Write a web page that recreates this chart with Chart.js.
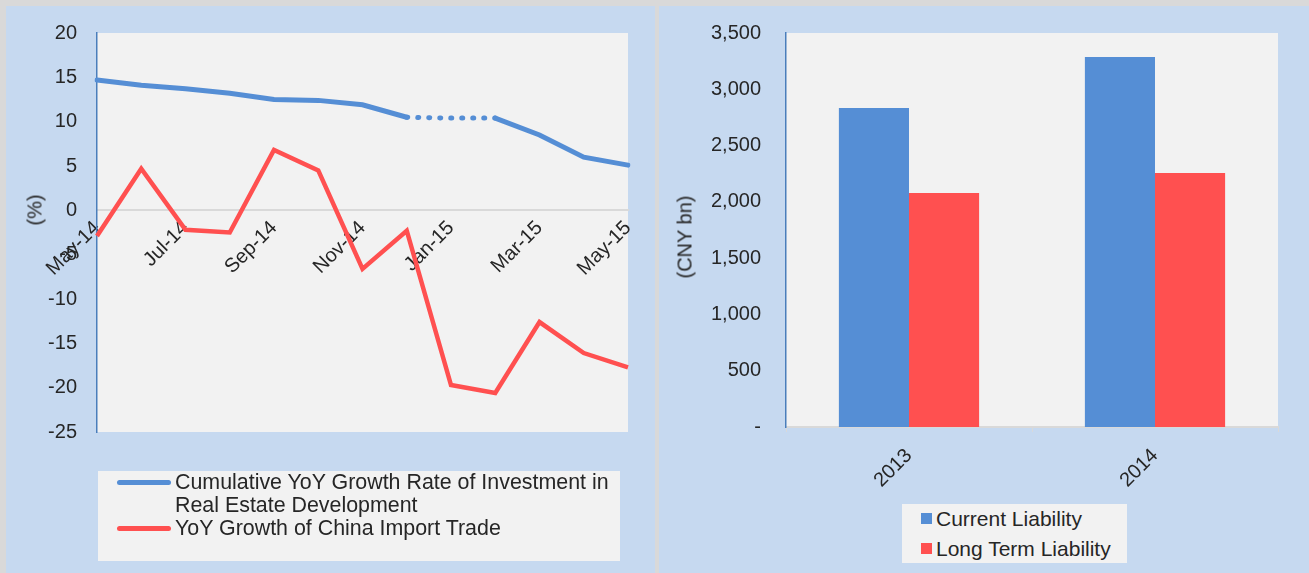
<!DOCTYPE html>
<html>
<head>
<meta charset="utf-8">
<script src="https://cdn.jsdelivr.net/npm/chart.js@4.4.0/dist/chart.umd.min.js"></script>
<style>
    body { margin: 0; background: #d9d9d9; font-family: "Liberation Sans", Arial, sans-serif; color: #262626; }
    .panel { position: absolute; top: 6px; height: 567px; background: #c6d9f0; overflow: hidden; }
    .panel canvas { position: absolute; left: 0; }
    .ytitle { position: absolute; font-size: 20px; white-space: nowrap; transform: translate(-50%, -50%) rotate(-90deg); }
    .legend { position: absolute; background: #f2f2f2; font-size: 21px; }
    .legend .row { position: absolute; white-space: nowrap; line-height: 23px; }
    .legend .line { position: absolute; height: 5px; border-radius: 3px; }
    .legend .box { position: absolute; width: 11px; height: 11px; }
</style>
</head>
<body>
<div class="panel" id="leftPanel" style="left:6px;width:649px;">
    <canvas id="lineChart" width="649" height="567" style="top:-5px;"></canvas>
    <div class="ytitle" style="left:29px;top:204px;">(%)</div>
    <div class="legend" style="left:92px;top:465px;width:522px;height:90px;">
        <div class="line" style="left:19px;top:9px;width:54px;background:#558ed5;"></div>
        <div class="row" style="left:77px;top:0px;font-size:21.4px;">Cumulative YoY Growth Rate of Investment in<br>Real Estate Development</div>
        <div class="line" style="left:19px;top:55px;width:54px;background:#ff5050;"></div>
        <div class="row" style="left:77px;top:46px;font-size:21.4px;">YoY Growth of China Import Trade</div>
    </div>
</div>
<div class="panel" id="rightPanel" style="left:659px;width:650px;">
    <canvas id="barChart" width="650" height="567" style="top:-10px;"></canvas>
    <div class="ytitle" style="left:26px;top:231px;">(CNY bn)</div>
    <div class="legend" style="left:243px;top:498px;width:225px;height:59px;">
        <div class="box" style="left:19px;top:9px;background:#558ed5;"></div>
        <div class="row" style="left:34px;top:3px;">Current Liability</div>
        <div class="box" style="left:19px;top:39px;background:#ff5050;"></div>
        <div class="row" style="left:34px;top:33px;">Long Term Liability</div>
    </div>
</div>
<script>
const months = ["May-14", "Jun-14", "Jul-14", "Aug-14", "Sep-14", "Oct-14", "Nov-14",
    "Dec-14", "Jan-15", "Feb-15", "Mar-15", "Apr-15", "May-15"];
const realEstateGrowth = [14.7, 14.1, 13.7, 13.2, 12.5, 12.4, 11.9, 10.5, 10.4, 10.4, 8.5, 6.0, 5.1];
const importGrowth = [-2.9, 4.7, -2.2, -2.5, 6.8, 4.5, -6.6, -2.3, -19.7, -20.6, -12.6, -16.1, -17.7];
const growthTicks = [20, 15, 10, 5, 0, -5, -10, -15, -20, -25];

const years = ["2013", "2014"];
const currentLiability = [2834, 3287];
const longTermLiability = [2079, 2256];
const liabilityTicks = [0, 500, 1000, 1500, 2000, 2500, 3000, 3500];

const BLUE = "#558ed5";
const RED = "#ff5050";
const TEXT = "#262626";
const FONT = { family: "'Liberation Sans', Arial, sans-serif", size: 20 };

Chart.defaults.devicePixelRatio = 1;

// grey plot background
const plotBg = {
    id: "plotBg",
    beforeDraw(chart) {
        const { ctx, chartArea: a } = chart;
        ctx.save();
        ctx.fillStyle = "#f2f2f2";
        ctx.fillRect(a.left, a.top, a.right - a.left, a.bottom - a.top);
        ctx.restore();
    }
};

// Jan-15 has no own value in the source, the gap Dec-Feb is dotted
const dottedGap = (ctx) => (ctx.p0DataIndex >= 7 && ctx.p1DataIndex <= 9) ? [1, 10] : undefined;

new Chart(document.getElementById("lineChart"), {
    type: "line",
    data: {
        labels: months,
        datasets: [
            {
                label: "Cumulative YoY Growth Rate of Investment in Real Estate Development",
                data: realEstateGrowth,
                borderColor: BLUE,
                borderWidth: 5,
                borderCapStyle: "round",
                pointRadius: 0,
                segment: { borderDash: dottedGap }
            },
            {
                label: "YoY Growth of China Import Trade",
                data: importGrowth,
                borderColor: RED,
                borderWidth: 4.5,
                pointRadius: 0
            }
        ]
    },
    options: {
        responsive: false,
        animation: false,
        layout: { padding: { left: 0, top: 22, right: 27, bottom: 136 } },
        plugins: { legend: { display: false }, tooltip: { enabled: false } },
        scales: {
            x: {
                position: { y: 0 },
                offset: false,
                grid: { display: false, drawTicks: false },
                border: { color: "#d9d9d9", width: 2 },
                ticks: {
                    autoSkip: false,
                    minRotation: 45,
                    maxRotation: 45,
                    padding: 6,
                    color: TEXT,
                    font: FONT,
                    callback: function (v, i) { return i % 2 === 0 ? this.getLabelForValue(v) : ""; }
                }
            },
            y: {
                min: -25,
                max: 20,
                afterBuildTicks: (s) => { s.ticks = growthTicks.map(v => ({ value: v })); },
                afterFit: (s) => { s.width = 91; },
                grid: { display: false, drawTicks: false },
                border: { color: "#4a7ebb", width: 1.5 },
                ticks: { padding: 20, color: TEXT, font: FONT }
            }
        }
    },
    plugins: [plotBg]
});

new Chart(document.getElementById("barChart"), {
    type: "bar",
    data: {
        labels: years,
        datasets: [
            { label: "Current Liability", data: currentLiability, backgroundColor: BLUE },
            { label: "Long Term Liability", data: longTermLiability, backgroundColor: RED }
        ]
    },
    options: {
        responsive: false,
        animation: false,
        categoryPercentage: 0.57,
        barPercentage: 1,
        layout: { padding: { left: 0, top: 17, right: 31, bottom: 0 } },
        plugins: { legend: { display: false }, tooltip: { enabled: false } },
        scales: {
            x: {
                afterFit: (s) => { s.height = 136; },
                grid: { drawOnChartArea: false, offset: true, tickLength: 5, color: "#d9d9d9" },
                border: { color: "#d9d9d9", width: 2 },
                ticks: { minRotation: 45, maxRotation: 45, padding: 12, color: TEXT, font: FONT }
            },
            y: {
                min: 0,
                max: 3500,
                afterBuildTicks: (s) => { s.ticks = liabilityTicks.map(v => ({ value: v })); },
                afterFit: (s) => { s.width = 127; },
                grid: { display: false, drawTicks: false },
                border: { color: "#4a7ebb", width: 1.5 },
                ticks: {
                    padding: 25,
                    color: TEXT,
                    font: FONT,
                    callback: (v) => v === 0 ? "-" : v.toLocaleString("en-US")
                }
            }
        }
    },
    plugins: [plotBg]
});
</script>
</body>
</html>
